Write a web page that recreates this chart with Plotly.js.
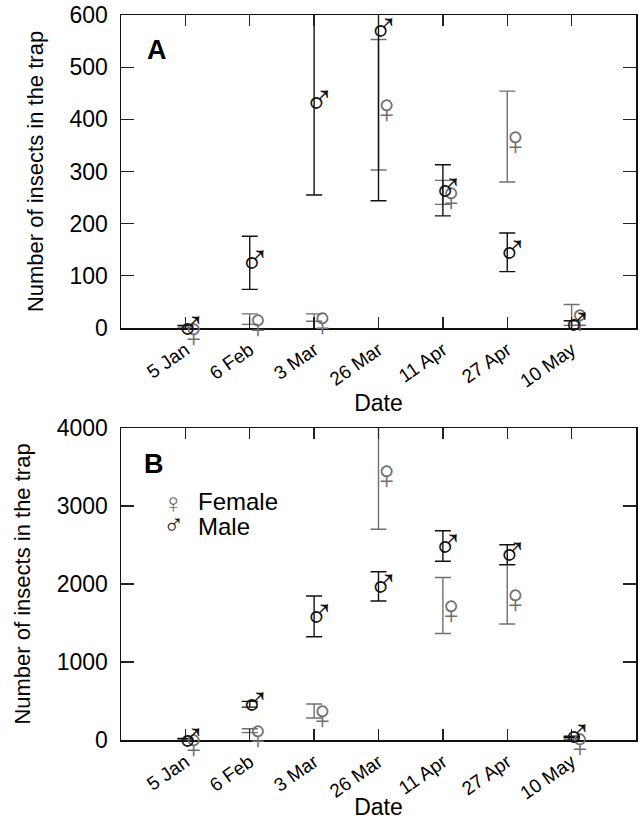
<!DOCTYPE html>
<html><head><meta charset="utf-8">
<script src="https://cdn.plot.ly/plotly-3.0.1.min.js"></script>
<style>html,body{margin:0;padding:0;background:#fff}#chart{width:643px;height:820px}</style>
</head><body><div id="chart"></div>
<script>
// ---- data ----
const dates = ['5 Jan', '6 Feb', '3 Mar', '26 Mar', '11 Apr', '27 Apr', '10 May'];
// Panel A
const femaleA    = [0, 17, 20, 428, 260, 367, 25];
const femaleAErr = [2, 10, 7, 125, 23, 87, 20];
const maleA      = [0, 125, 432, 570, 264, 145, 6];
const maleAErr   = [5, 51, 177, 326, 49, 37, 8];
// Panel B
const femaleB    = [5, 119, 372, 3461, 1725, 1867, 25];
const femaleBErr = [10, 25, 90, 760, 359, 380, 15];
const maleB      = [0, 458, 1585, 1970, 2487, 2376, 40];
const maleBErr   = [20, 37, 262, 188, 196, 128, 8];
const yTicksA = [0, 100, 200, 300, 400, 500, 600];
const yTicksB = [0, 1000, 2000, 3000, 4000];

// ---- layout geometry ----
const FONT = 'Liberation Sans, Arial, Helvetica, sans-serif';
const GLYPH_FONT = 'Liberation Sans, DejaVu Sans, sans-serif';
const W = 643, H = 820;
const M = {l: 121, r: 7, t: 15, b: 60};
const plotW = W - M.l - M.r, plotH = H - M.t - M.b;
// domain from pixel rows (top, bottom) of the figure
function dom(pyTop, pyBot) { return [1 - (pyBot - M.t) / plotH, 1 - (pyTop - M.t) / plotH]; }
const PANEL_A = [15, 328], PANEL_B = [428, 740];
const yDomA = dom(PANEL_A[0], PANEL_A[1]);
const yDomB = dom(PANEL_B[0], PANEL_B[1]);
const XR = [-1, 7];
const YRA = [0, 600], YRB = [0, 4000];
const pxPerX = plotW / (XR[1] - XR[0]);
function shiftX(dx) { return [XR[0] - dx / pxPerX, XR[1] - dx / pxPerX]; }
// glyph pixel offsets so that the circle of the sex symbol sits on the value
const F_OFF = {dx: 8, dy: 8};
const M_OFF = {dx: 5, dy: 1};

const FEM_COL = '#707070', MAL_COL = '#111111';
const GLYPH_SIZE = 42;

function barTrace(y, err, col, xa, ya, name) {
  return {
    type: 'scatter', mode: 'markers', x: dates, y: y, xaxis: xa, yaxis: ya, name: name,
    marker: {size: 2, color: 'rgba(0,0,0,0)'}, showlegend: false, hoverinfo: 'skip',
    error_y: {type: 'data', array: err, visible: true, color: col, thickness: 1.4, width: 8}
  };
}
function glyphTrace(y, sym, col, xa, ya, name) {
  return {
    type: 'scatter', mode: 'text', x: dates, y: y, xaxis: xa, yaxis: ya, name: name,
    text: dates.map(() => sym), textposition: 'middle center',
    textfont: {family: GLYPH_FONT, size: GLYPH_SIZE, color: col},
    cliponaxis: false, showlegend: false, hoverinfo: 'skip'
  };
}

const data = [
  barTrace(femaleA, femaleAErr, FEM_COL, 'x', 'y', 'Female'),
  barTrace(maleA, maleAErr, MAL_COL, 'x', 'y', 'Male'),
  barTrace(femaleB, femaleBErr, FEM_COL, 'x2', 'y2', 'Female'),
  barTrace(maleB, maleBErr, MAL_COL, 'x2', 'y2', 'Male'),
  glyphTrace(femaleA, '♀', FEM_COL, 'x3', 'y3', 'Female'),
  glyphTrace(maleA, '♂', MAL_COL, 'x4', 'y4', 'Male'),
  glyphTrace(femaleB, '♀', FEM_COL, 'x5', 'y5', 'Female'),
  glyphTrace(maleB, '♂', MAL_COL, 'x6', 'y6', 'Male')
];

function mainX(anchor) {
  return {
    type: 'category', categoryorder: 'array', categoryarray: dates, range: XR, anchor: anchor,
    showgrid: false, zeroline: false, showline: true, linecolor: '#111', linewidth: 1.5,
    mirror: 'ticks', ticks: 'inside', ticklen: 11, tickwidth: 1.3, tickcolor: '#222',
    tickangle: -35, ticklabelstandoff: 2,
    tickfont: {family: FONT, size: 19, color: '#000'},
    title: {text: 'Date', font: {family: FONT, size: 23, color: '#000'}, standoff: 1},
    automargin: false
  };
}
function mainY(anchor, d, r, tv) {
  return {
    domain: d, range: r, anchor: anchor, tickvals: tv,
    showgrid: false, zeroline: false, showline: true, linecolor: '#111', linewidth: 1.5,
    mirror: 'ticks', ticks: 'inside', ticklen: 13, tickwidth: 1.3, tickcolor: '#222',
    ticklabelstandoff: 7,
    tickfont: {family: FONT, size: 23, color: '#000'},
    title: {text: 'Number of insects in the trap', font: {family: FONT, size: 22, color: '#000'}, standoff: 20},
    automargin: false
  };
}
// hidden axes carrying the symbol glyphs, offset by a few pixels
function glyphX(anchor, off) {
  return {type: 'category', categoryorder: 'array', categoryarray: dates,
    range: shiftX(off.dx), anchor: anchor, visible: false, domain: [0, 1]};
}
function glyphY(anchor, panel, r, off) {
  return {range: r, anchor: anchor, visible: false, domain: dom(panel[0] + off.dy, panel[1] + off.dy)};
}

const layout = {
  width: W, height: H, margin: M, paper_bgcolor: '#fff', plot_bgcolor: 'rgba(0,0,0,0)',
  showlegend: false,
  font: {family: FONT, color: '#000'},
  xaxis: mainX('y'),
  yaxis: mainY('x', yDomA, YRA, yTicksA),
  xaxis2: mainX('y2'),
  yaxis2: mainY('x2', yDomB, YRB, yTicksB),
  xaxis3: glyphX('y3', F_OFF), yaxis3: glyphY('x3', PANEL_A, YRA, F_OFF),
  xaxis4: glyphX('y4', M_OFF), yaxis4: glyphY('x4', PANEL_A, YRA, M_OFF),
  xaxis5: glyphX('y5', F_OFF), yaxis5: glyphY('x5', PANEL_B, YRB, F_OFF),
  xaxis6: glyphX('y6', M_OFF), yaxis6: glyphY('x6', PANEL_B, YRB, M_OFF),
  annotations: [
    {text: '<b>A</b>', xref: 'paper', yref: 'paper', x: (157 - M.l) / plotW, y: dom(50, 50)[0],
     xanchor: 'center', yanchor: 'middle', showarrow: false, font: {family: FONT, size: 27, color: '#000'}},
    {text: '<b>B</b>', xref: 'paper', yref: 'paper', x: (154 - M.l) / plotW, y: dom(464, 464)[0],
     xanchor: 'center', yanchor: 'middle', showarrow: false, font: {family: FONT, size: 27, color: '#000'}},
    {text: '♀', xref: 'paper', yref: 'paper', x: (173 - M.l) / plotW, y: dom(503, 503)[0],
     xanchor: 'center', yanchor: 'middle', showarrow: false, font: {family: GLYPH_FONT, size: 28, color: FEM_COL}},
    {text: 'Female', xref: 'paper', yref: 'paper', x: (196 - M.l) / plotW, y: dom(501, 501)[0],
     xanchor: 'left', yanchor: 'middle', showarrow: false, font: {family: FONT, size: 24, color: '#000'}},
    {text: '♂', xref: 'paper', yref: 'paper', x: (173 - M.l) / plotW, y: dom(524, 524)[0],
     xanchor: 'center', yanchor: 'middle', showarrow: false, font: {family: GLYPH_FONT, size: 28, color: MAL_COL}},
    {text: 'Male', xref: 'paper', yref: 'paper', x: (196 - M.l) / plotW, y: dom(526, 526)[0],
     xanchor: 'left', yanchor: 'middle', showarrow: false, font: {family: FONT, size: 24, color: '#000'}}
  ]
};

Plotly.newPlot('chart', data, layout, {displayModeBar: false, staticPlot: true});
</script>
</body></html>
